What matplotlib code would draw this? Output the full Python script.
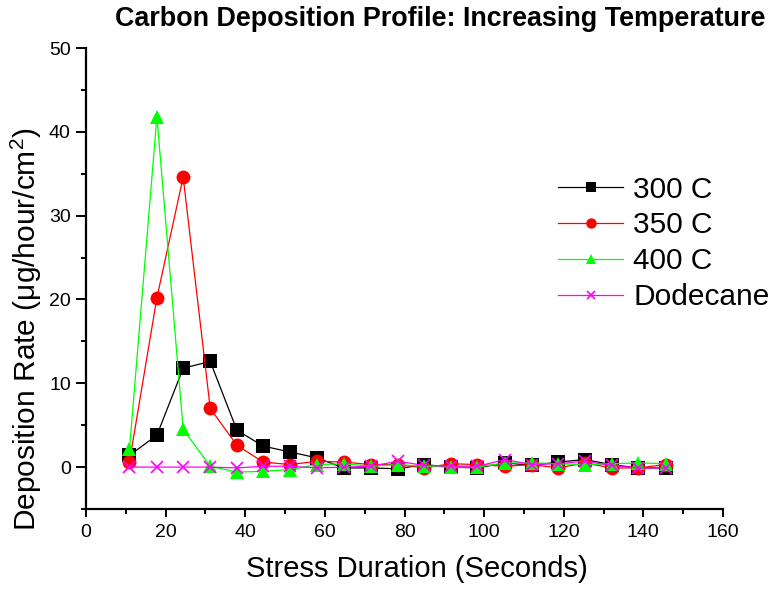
import matplotlib
matplotlib.use("Agg")
import matplotlib.pyplot as plt
from matplotlib.ticker import MultipleLocator

plt.rcParams['font.family'] = ['Liberation Sans', 'DejaVu Sans']
plt.rcParams['mathtext.default'] = 'regular'

# stress duration (s)
xs = [10.9, 17.8, 24.4, 31.2, 37.9, 44.5, 51.3, 58.0, 64.7, 71.6, 78.3,
      84.9, 91.6, 98.3, 105.3, 112.0, 118.6, 125.3, 132.0, 138.7, 145.6]

# deposition rate (ug/hour/cm2)
t300 = [1.4, 3.8, 11.8, 12.6, 4.4, 2.5, 1.8, 1.1, -0.1, -0.1, -0.2,
        0.3, 0.0, -0.1, 0.5, 0.2, 0.6, 0.9, 0.3, -0.1, -0.1]
t350 = [0.6, 20.2, 34.6, 7.0, 2.6, 0.6, 0.3, 0.7, 0.6, 0.3, 0.3,
        -0.1, 0.4, 0.3, 0.1, 0.3, -0.1, 0.5, -0.1, -0.1, 0.3]
t400 = [2.1, 41.8, 4.5, 0.1, -0.6, -0.5, -0.3, 0.3, 0.4, 0.1, 0.3,
        0.1, 0.0, 0.0, 0.5, 0.5, 0.4, 0.3, 0.4, 0.5, 0.4]
dodec = [0.0, 0.0, 0.0, 0.0, -0.1, 0.1, 0.1, -0.1, 0.0, 0.1, 0.7,
         0.2, 0.1, 0.1, 0.9, 0.3, 0.4, 0.7, 0.2, -0.1, -0.1]

fig = plt.figure(figsize=(7.73, 5.92), dpi=100)
ax = fig.add_axes([0.1113, 0.1402, 0.824, 0.7787])

ax.plot(xs, t300, '-s', color='black', lw=0.9, ms=9.5, mew=0, label='300 C')
ax.plot(xs, t350, '-o', color='#ff0000', lw=0.9, ms=10, mew=0, label='350 C')
ax.plot(xs, t400, '-^', color='#00ff00', lw=0.9, ms=10.5, mew=0, label='400 C')
ax.plot(xs, dodec, '-x', color='#ff00ff', lw=0.9, ms=8.5, mew=1.2, label='Dodecane')

ax.set_xlim(0, 160)
ax.set_ylim(-5, 50)
ax.xaxis.set_major_locator(MultipleLocator(20))
ax.xaxis.set_minor_locator(MultipleLocator(10))
ax.set_yticks([0, 10, 20, 30, 40, 50])
ax.yaxis.set_minor_locator(MultipleLocator(5))

for s in ['top', 'right']:
    ax.spines[s].set_visible(False)
for s in ['left', 'bottom']:
    ax.spines[s].set_linewidth(1.6)
ax.tick_params(which='both', direction='out', width=1.4, labelsize=14)
ax.tick_params(axis='x', which='major', length=5.5, pad=5)
ax.tick_params(axis='x', which='minor', length=3.5)
ax.tick_params(axis='y', which='major', length=7, pad=4)
ax.tick_params(axis='y', which='minor', length=3.5)

ax.set_xlabel('Stress Duration (Seconds)', fontsize=21)
ax.set_ylabel('Deposition Rate (μg/hour/cm$^2$)', fontsize=21.5)
ax.xaxis.set_label_coords(0.52, -0.1)
ax.yaxis.set_label_coords(-0.066, 0.39)

fig.text(0.569, 0.968, 'Carbon Deposition Profile: Increasing Temperature',
         ha='center', va='center', fontsize=19.4, fontweight='bold')

ax.legend(loc='upper left', bbox_to_anchor=(0.723, 0.749), frameon=False,
          fontsize=21.5, handlelength=2.17, labelspacing=0.26, markerscale=0.75,
          handletextpad=0.33, borderaxespad=0)

fig.savefig('out.png', dpi=100)
